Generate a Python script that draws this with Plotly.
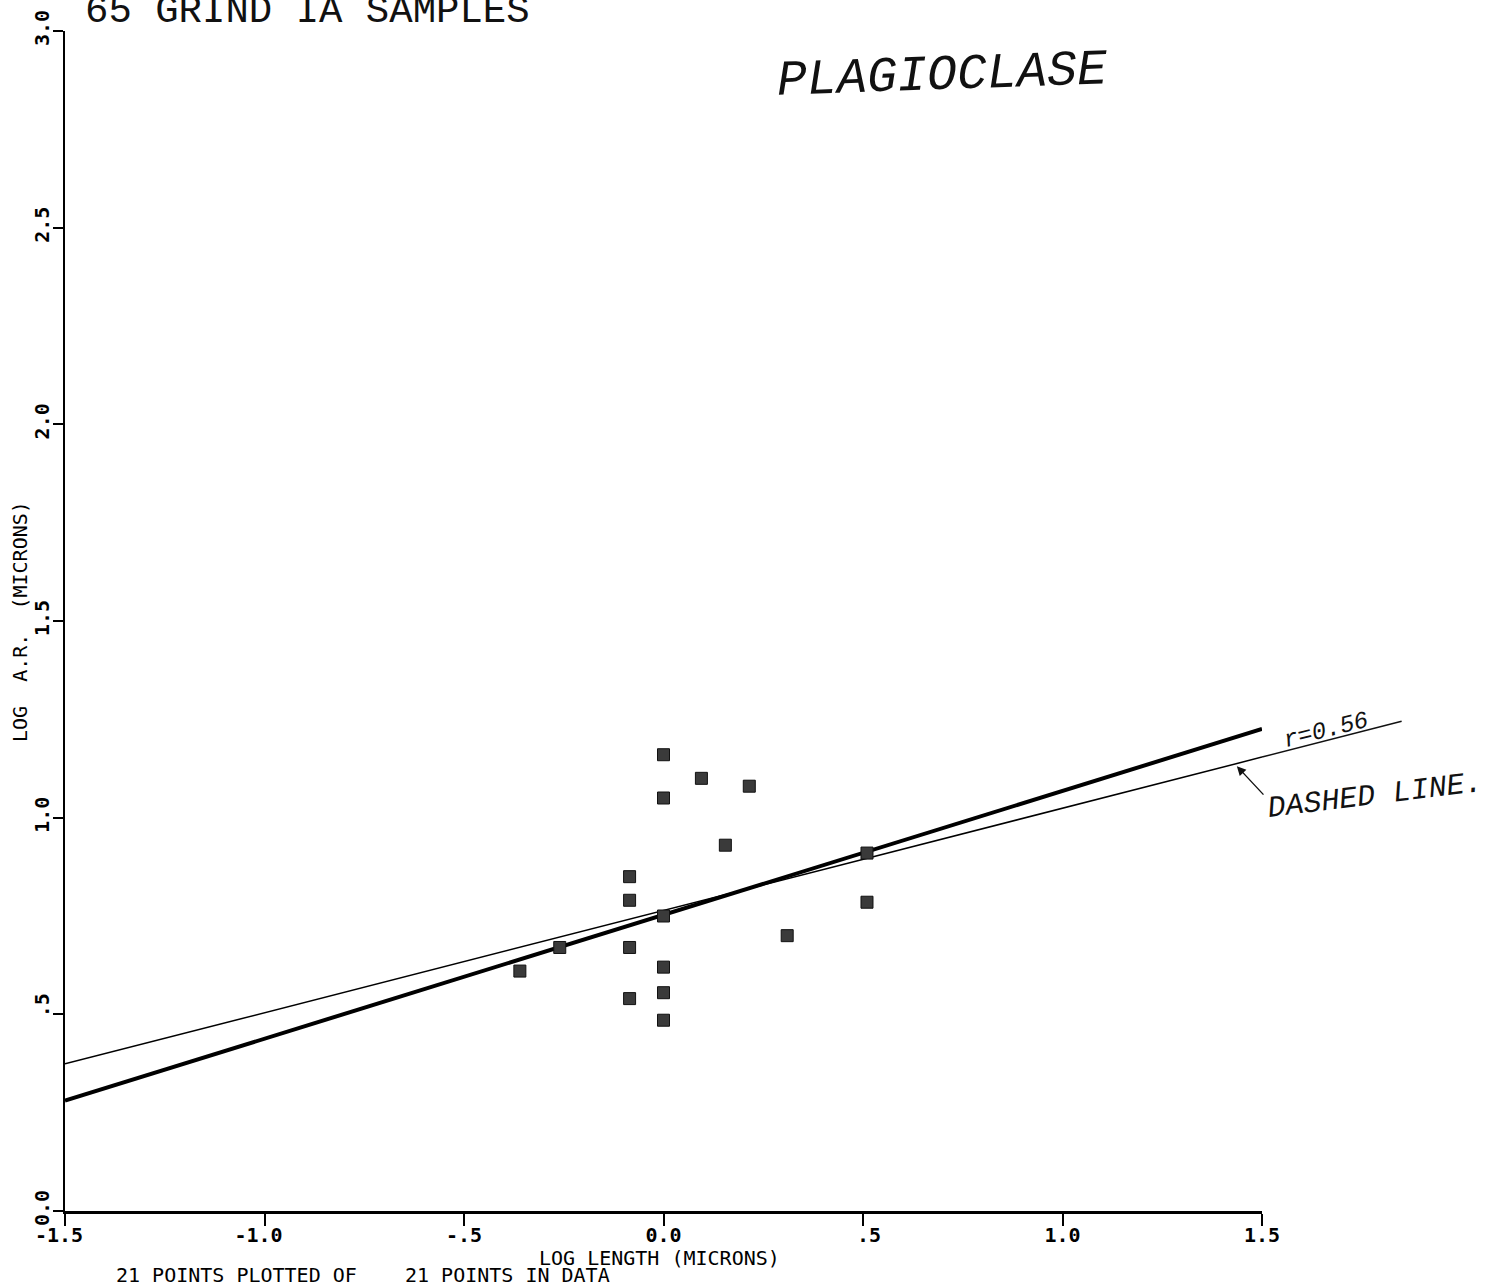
import plotly.graph_objects as go

# ---- data -------------------------------------------------------------
log_length = [-0.36, -0.26, -0.085, -0.085, -0.085, -0.085,
              0.0, 0.0, 0.0, 0.0, 0.0, 0.0,
              0.095, 0.215, 0.155, 0.31, 0.51, 0.51]
log_ar = [0.61, 0.67, 0.85, 0.79, 0.67, 0.54,
          1.16, 1.05, 0.75, 0.62, 0.555, 0.485,
          1.10, 1.08, 0.93, 0.70, 0.91, 0.785]

# fitted lines: (intercept, slope)
fit_solid = (0.753, 0.315)
fit_dashed = (0.764, 0.26)
dashed_ext_end = 1.85          # hand-drawn continuation of the dashed fit

x_ticks = [-1.5, -1.0, -0.5, 0.0, 0.5, 1.0, 1.5]
x_ticktext = ["-1.5", "-1.0", "-.5", "0.0", ".5", "1.0", "1.5"]
y_ticks = [0.0, 0.5, 1.0, 1.5, 2.0, 2.5, 3.0]
y_ticktext = ["0.0", ".5", "1.0", "1.5", "2.0", "2.5", "3.0"]

X_RANGE = (-1.5, 1.5)
Y_RANGE = (0.0, 3.0)


def centre_on_point(lbl):
    """Pad a label with no-break spaces so its decimal point sits in the middle."""
    if "." not in lbl:
        return lbl
    left, right = lbl.split(".")
    d = len(right) - len(left)
    nb = "\u00a0"
    return nb * max(d, 0) + lbl + nb * max(-d, 0)


def fit_y(fit, x):
    return fit[0] + fit[1] * x


def to_paper_x(x):
    return (x - X_RANGE[0]) / (X_RANGE[1] - X_RANGE[0])


def to_paper_y(y):
    return (y - Y_RANGE[0]) / (Y_RANGE[1] - Y_RANGE[0])


PLOT_FONT = "DejaVu Sans Mono"
HAND_FONT = "Liberation Mono"

fig = go.Figure()

# regression lines
fig.add_trace(go.Scatter(
    x=list(X_RANGE), y=[fit_y(fit_dashed, v) for v in X_RANGE],
    mode="lines", line=dict(color="black", width=1.5), hoverinfo="skip",
))
fig.add_trace(go.Scatter(
    x=list(X_RANGE), y=[fit_y(fit_solid, v) for v in X_RANGE],
    mode="lines", line=dict(color="black", width=4), hoverinfo="skip",
))

# samples
fig.add_trace(go.Scatter(
    x=log_length, y=log_ar, mode="markers",
    marker=dict(symbol="square", size=12, color="#3a3a3a",
                line=dict(color="#111111", width=1)),
))

annotations = [
    dict(text="65 GRIND IA SAMPLES", x=0.015, y=1.016, xref="paper", yref="paper",
         xanchor="left", yanchor="middle", showarrow=False,
         font=dict(family=HAND_FONT, size=39, color="#111")),
    dict(text="PLAGIOCLASE", x=0.733, y=0.962, xref="paper", yref="paper",
         xanchor="center", yanchor="middle", showarrow=False, textangle=-2,
         font=dict(family=HAND_FONT, size=50, color="#111", style="italic")),
    dict(text="LOG LENGTH (MICRONS)", x=0.497, y=-0.0395, xref="paper", yref="paper",
         xanchor="center", yanchor="middle", showarrow=False,
         font=dict(family=PLOT_FONT, size=20, color="black")),
    dict(text="LOG  A.R.  (MICRONS)", x=-0.0376, y=0.5, xref="paper", yref="paper",
         xanchor="center", yanchor="middle", showarrow=False, textangle=-90,
         font=dict(family=PLOT_FONT, size=20, color="black")),
    dict(text="21 POINTS PLOTTED OF" + "\u00a0" * 3 + " 21 POINTS IN DATA",
         x=0.041, y=-0.0545, xref="paper", yref="paper",
         xanchor="left", yanchor="middle", showarrow=False,
         font=dict(family=PLOT_FONT, size=20, color="black")),
    dict(text="r=0.56", x=1.0535, y=0.4068, xref="paper", yref="paper",
         xanchor="center", yanchor="middle", showarrow=False, textangle=-14,
         font=dict(family=HAND_FONT, size=24, color="#111", style="italic")),
    dict(text="DASHED LINE.", x=1.094, y=0.352, xref="paper", yref="paper",
         xanchor="center", yanchor="middle", showarrow=False, textangle=-7,
         font=dict(family=HAND_FONT, size=30, color="#111", style="italic")),
    # hand-drawn arrow pointing at the dashed fit
    dict(text="", x=0.979, y=0.377, xref="paper", yref="paper",
         ax=28, ay=30, axref="pixel", ayref="pixel",
         showarrow=True, arrowhead=2, arrowsize=1.3, arrowwidth=1.4,
         arrowcolor="#111"),
]

# hand-drawn continuation of the dashed fit under the r label
shapes = [dict(
    type="line", xref="paper", yref="paper",
    x0=to_paper_x(X_RANGE[1]), y0=to_paper_y(fit_y(fit_dashed, X_RANGE[1])),
    x1=to_paper_x(dashed_ext_end), y1=to_paper_y(fit_y(fit_dashed, dashed_ext_end)),
    line=dict(color="#111", width=1.5),
)]

fig.update_layout(
    width=1490, height=1288,
    margin=dict(l=65, r=228, t=31, b=77, autoexpand=False),
    paper_bgcolor="white", plot_bgcolor="white",
    showlegend=False,
    annotations=annotations,
    shapes=shapes,
    xaxis=dict(
        range=list(X_RANGE), tickvals=x_ticks,
        ticktext=[centre_on_point(t) for t in x_ticktext],
        ticks="outside", ticklen=12, tickwidth=2, tickcolor="black",
        ticklabelstandoff=-8,
        showline=True, linewidth=3, linecolor="black",
        showgrid=False, zeroline=False,
        tickfont=dict(family=PLOT_FONT, size=20, color="black", weight="bold"),
    ),
    yaxis=dict(
        range=list(Y_RANGE), tickvals=y_ticks,
        ticktext=[centre_on_point(t) for t in y_ticktext],
        tickangle=-90,
        ticks="outside", ticklen=10, tickwidth=2, tickcolor="black",
        ticklabelstandoff=-4,
        showline=True, linewidth=2, linecolor="black",
        showgrid=False, zeroline=False,
        tickfont=dict(family=PLOT_FONT, size=20, color="black", weight="bold"),
    ),
)

fig.write_html("out.html")
